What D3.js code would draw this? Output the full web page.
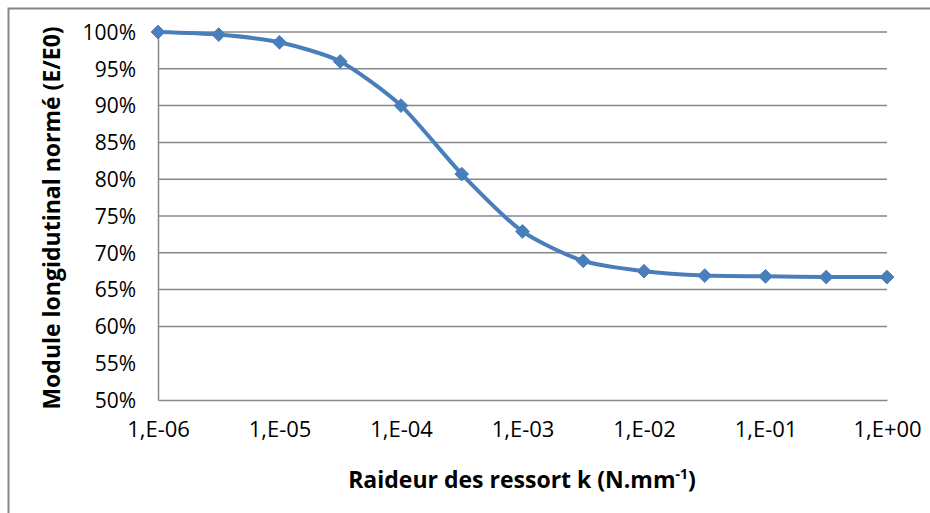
<!DOCTYPE html>
<html>
<head>
<meta charset="utf-8">
<script src="https://cdn.jsdelivr.net/npm/d3@7"></script>
<style>
  body { margin: 0; background: #fff; }
  text { font-family: "Open Sans", sans-serif; fill: #000; }
</style>
</head>
<body>
<svg></svg>
<script>
const width = 930;
const height = 513;

// raideur k (N.mm-1), points par demi-décade
const stiffness = [1e-6, 3.16e-6, 1e-5, 3.16e-5, 1e-4, 3.16e-4, 1e-3, 3.16e-3, 1e-2, 3.16e-2, 1e-1, 3.16e-1, 1];
// module normé E/E0
const modulus = [1.000, 0.9965, 0.986, 0.960, 0.900, 0.807, 0.729, 0.689, 0.675, 0.669, 0.668, 0.667, 0.667];
const xTicks = [1e-6, 1e-5, 1e-4, 1e-3, 1e-2, 1e-1, 1];
const xTickLabels = ["1,E-06", "1,E-05", "1,E-04", "1,E-03", "1,E-02", "1,E-01", "1,E+00"];
const yTicks = [0.50, 0.55, 0.60, 0.65, 0.70, 0.75, 0.80, 0.85, 0.90, 0.95, 1.00];
const gridValues = [0.60, 0.65, 0.70, 0.75, 0.80, 0.85, 0.90, 0.95, 1.00];

const margin = {left: 158, right: 43, top: 32, bottom: 113};

const svg = d3.select('svg')
    .attr('width', width).attr('height', height);

// cadre du graphique
svg.append('rect')
    .attr('x', 8.5).attr('y', 8.5)
    .attr('width', 940).attr('height', 540)
    .style('fill', 'none')
    .style('stroke', '#868686')
    .style('stroke-width', '2px');

const x = d3.scaleLog()
    .domain([1e-6, 1])
    .range([margin.left, width - margin.right]);
const y = d3.scaleLinear()
    .domain([0.5, 1])
    .range([height - margin.bottom, margin.top]);

// quadrillage horizontal
svg.append('g')
    .selectAll('line')
    .data(gridValues)
    .enter().append('line')
    .attr('x1', x(1e-6)).attr('x2', x(1))
    .attr('y1', d => y(d)).attr('y2', d => y(d))
    .style('stroke', '#878787')
    .style('stroke-width', '1.5px');

// axe y
const yAxis = svg.append('g')
    .attr('transform', `translate(${x(1e-6)},0)`)
    .call(d3.axisLeft(y).tickValues(yTicks).tickSize(0).tickPadding(22)
        .tickFormat(d => Math.round(d * 100) + '%'));
yAxis.select('.domain').style('stroke', '#878787').style('stroke-width', '1.5px');
yAxis.selectAll('text').style('font-size', '21px').attr('dy', '0.35em');

// axe x
const xAxis = svg.append('g')
    .attr('transform', `translate(0,${y(0.5)})`)
    .call(d3.axisBottom(x).tickValues(xTicks).tickSize(0).tickPadding(24)
        .tickFormat((d, i) => xTickLabels[i]));
xAxis.select('.domain').style('stroke', '#878787').style('stroke-width', '1.5px');
xAxis.selectAll('text').style('font-size', '22px').attr('dy', '0.6em');

// courbe lissée
const points = stiffness.map((k, i) => [k, modulus[i]]);
const line = d3.line()
    .x(d => x(d[0]))
    .y(d => y(d[1]))
    .curve(d3.curveCardinal.tension(0.3));

svg.append('path')
    .datum(points)
    .attr('d', line)
    .style('fill', 'none')
    .style('stroke', '#4a7ebb')
    .style('stroke-width', '4px')
    .style('stroke-linejoin', 'round');

// marqueurs losange
svg.append('g')
    .selectAll('path')
    .data(points)
    .enter().append('path')
    .attr('d', d3.symbol().type(d3.symbolDiamond2).size(120))
    .attr('transform', d => `translate(${x(d[0])},${y(d[1])})`)
    .style('fill', '#4a7ebb')
    .style('stroke', '#4a7ebb')
    .style('stroke-width', '1px');

// titres des axes
const xTitle = svg.append('text')
    .attr('x', 522).attr('y', 488)
    .attr('text-anchor', 'middle')
    .style('font-size', '23px')
    .style('font-weight', 'bold');
xTitle.append('tspan').text('Raideur des ressort k (N.mm');
xTitle.append('tspan').text('-1').style('font-size', '14px').attr('dy', '-9');
xTitle.append('tspan').text(')').attr('dy', '9');

svg.append('text')
    .attr('transform', 'translate(60,218) rotate(-90)')
    .attr('text-anchor', 'middle')
    .style('font-size', '23px')
    .style('font-weight', 'bold')
    .text('Module longidutinal normé (E/E0)');
</script>
</body>
</html>
